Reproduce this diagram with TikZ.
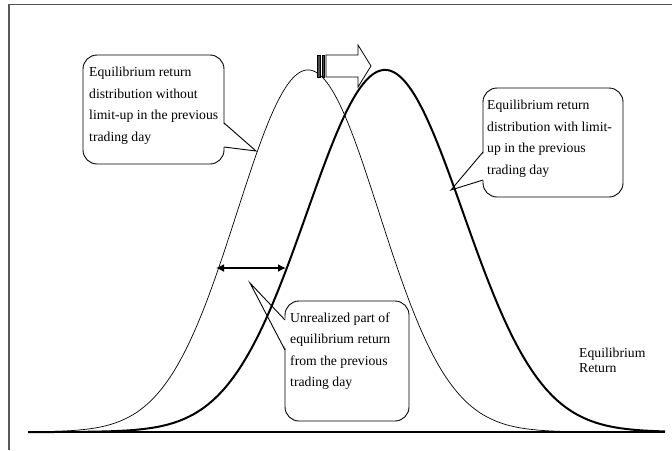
\documentclass[tikz,border=0pt]{standalone}
\usepackage{fontspec}
\setmainfont{Liberation Serif}
\usetikzlibrary{arrows.meta}
\begin{document}
\begin{tikzpicture}[x=1pt,y=-1pt,
  txt/.style={font=\fontsize{13.7}{21.5}\selectfont, align=left, inner sep=0pt, anchor=north west},
  box/.style={draw, line width=0.9pt, rounded corners=14pt, inner sep=0pt},
  ptr/.style={draw, line width=0.9pt, line join=miter},
  thincurve/.style={line width=0.7pt},
  thickcurve/.style={line width=2pt},
  frameline/.style={draw=black!65, line width=1.5pt}]
\useasboundingbox (0,0) rectangle (672,450);
% frame
\draw[frameline] (9,450) -- (9,4.5) -- (672,4.5);
% left callout
\node[box, minimum width=141pt, minimum height=109pt] (lb) at (153.5,109.5) {};
\coordinate (lp1) at (224,123);
\coordinate (ltip) at (256,151);
\coordinate (lp2) at (224,147);
\fill[white] (222.4,123) -- (ltip) -- (222.4,147) -- cycle;
\draw[ptr] (lp1) -- (ltip) -- (lp2);
\node[txt] (lt) at (89,67) {Equilibrium return\\distribution without\\limit-up in the previous\\trading day};
% right callout
\node[box, minimum width=140pt, minimum height=109pt] (rb) at (553,142.5) {};
\coordinate (rp1) at (483,152);
\coordinate (rtip) at (451,190);
\coordinate (rp2) at (483,180);
\fill[white] (484.6,152) -- (rtip) -- (484.6,180) -- cycle;
\draw[ptr] (rp1) -- (rtip) -- (rp2);
\node[txt] (rt) at (487,100) {Equilibrium return\\distribution with limit-\\up in the previous\\trading day};
% bottom callout
\node[box, minimum width=124pt, minimum height=120pt] (bb) at (347,361) {};
\coordinate (bp1) at (285,320);
\coordinate (btip) at (250,283);
\coordinate (bp2) at (285,350);
\fill[white] (286.6,320) -- (btip) -- (286.6,350) -- cycle;
\draw[ptr] (bp1) -- (btip) -- (bp2);
\node[txt] (bt) at (290,312.5) {Unrealized part of\\equilibrium return\\from the previous\\trading day};
% axis label
\node[txt, font=\fontsize{13.7}{15}\selectfont] (ax) at (579,348) {Equilibrium\\Return};
% curves
\draw[thincurve] plot[domain=28:665, samples=320] (\x, {432-362*exp(-0.5*((\x-308)/71)^2)});
\draw[thickcurve] plot[domain=28:665, samples=320] (\x, {432-362*exp(-0.5*((\x-385)/78)^2)});
% baseline
\coordinate (b0) at (28,432);
\coordinate (b1) at (665,432);
\draw[line width=2pt] (b0) -- (b1);
% double arrow
\coordinate (da1) at (216,268);
\coordinate (da2) at (286,268);
\draw[line width=1.5pt, {Latex[length=8pt,width=8pt]}-{Latex[length=8pt,width=8pt]}] (da1) -- (da2);
% striped block arrow
\draw[line width=0.8pt, fill=white, line join=miter] (326,55) -- (358,55) -- (358,45) -- (371,66) -- (358,87) -- (358,77) -- (326,77) -- cycle;
\draw[line width=0.6pt, fill=black!70] (317,55) rectangle (320,77);
\draw[line width=0.6pt, fill=black!70] (322,55) rectangle (324.5,77);
\end{tikzpicture}
\end{document}
